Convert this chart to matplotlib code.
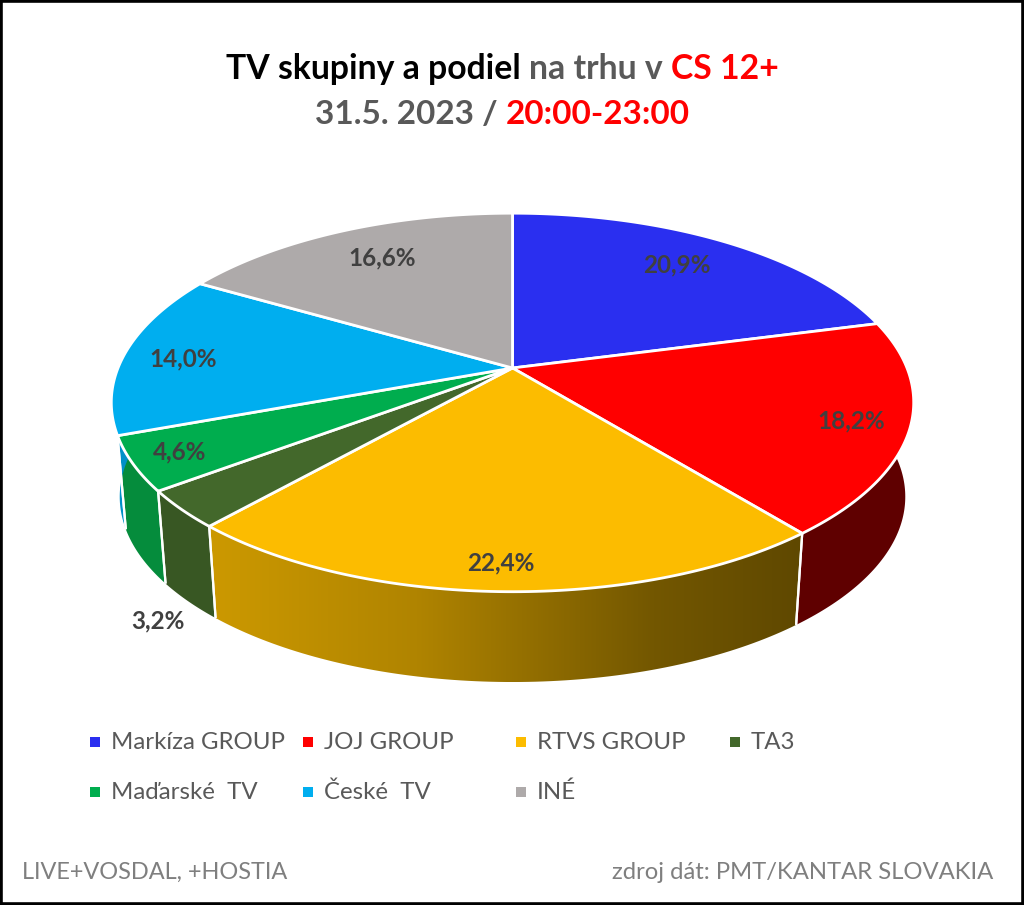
import numpy as np
import matplotlib
matplotlib.use("Agg")
import matplotlib.pyplot as plt
from matplotlib.patches import Polygon, Rectangle
from matplotlib.colors import LinearSegmentedColormap

categories = ["Markíza GROUP", "JOJ GROUP", "RTVS GROUP", "TA3", "Maďarské  TV", "České  TV", "INÉ"]
shares = [20.9, 18.2, 22.4, 3.2, 4.6, 14.0, 16.6]
top_colors = ["#2A2FF0", "#FF0000", "#FCBC00", "#43682B", "#00AD4E", "#00AEEF", "#AEAAAA"]
wall_colors = ["#12147A", "#5F0000", None, "#385723", "#058C3C", "#0090C8", "#6E6C6C"]
label_xy = [(677, 265), (851, 421), (501, 563), (158, 621), (180, 452), (183, 359), (382, 258)]
legend_xy = [(95, 742), (308, 742), (521, 742), (735, 742), (95, 792), (308, 792), (521, 792)]

FONT = "Lato"
plt.rcParams["font.family"] = [FONT, "DejaVu Sans"]

W, H = 1024, 905
fig = plt.figure(figsize=(W / 100, H / 100), dpi=100, facecolor="white")
ax = fig.add_axes([0, 0, 1, 1])
ax.set_xlim(0, W)
ax.set_ylim(H, 0)
ax.axis("off")

CX, CY, R, VS, K = 512.5, 368, 394.5, 183, 0.182
DEPTH, SHRINK = 95, 0.979


def project(theta, bottom=False):
    X, Y = np.sin(theta), np.cos(theta)
    d = 1 + K * Y
    x, y = R * X / d, -VS * Y / d
    if bottom:
        return CX + SHRINK * x, CY + SHRINK * y + DEPTH
    return CX + x, CY + y


fr = np.cumsum([0] + shares) / sum(shares) * 2 * np.pi
lw_top, lw_wall = 2.0, 1.6

# outer wall
for i in range(len(shares)):
    t = np.linspace(fr[i], fr[i + 1], 90)
    xt, yt = project(t)
    xb, yb = project(t, True)
    px = np.r_[xt, xb[::-1]]
    py = np.r_[yt, yb[::-1]]
    pts = np.c_[px, py]
    if wall_colors[i] is None:
        poly = Polygon(pts, closed=True, fc="none", ec="none", zorder=2)
        ax.add_patch(poly)
        cmap = LinearSegmentedColormap.from_list(
            "w", [(0, "#CC9900"), (0.35, "#B08400"), (0.75, "#735700"), (1, "#5F4800")])
        im = ax.imshow(np.linspace(0, 1, 256)[None, :], cmap=cmap, aspect="auto",
                       extent=(px.min(), px.max(), py.max(), py.min()), zorder=2)
        im.set_clip_path(poly)
        ax.set_xlim(0, W)
        ax.set_ylim(H, 0)
    else:
        ax.add_patch(Polygon(pts, closed=True, fc=wall_colors[i], ec="none", zorder=2))
    for th in (fr[i], fr[i + 1]):
        if np.cos(th) < -K * 0.5:
            a, b = project(th), project(th, True)
            ax.plot([a[0], b[0]], [a[1], b[1]], color="white", lw=lw_wall, zorder=3,
                    solid_capstyle="butt")

# top surface
for i in range(len(shares)):
    t = np.linspace(fr[i], fr[i + 1], 90)
    xt, yt = project(t)
    pts = np.r_[[[CX, CY]], np.c_[xt, yt]]
    ax.add_patch(Polygon(pts, closed=True, fc=top_colors[i], ec="white", lw=lw_top,
                         joinstyle="round", zorder=4))

# data labels
for v, (x, y) in zip(shares, label_xy):
    ax.text(x, y, f"{v:.1f}%".replace(".", ","), color="#404040", fontsize=17.5, fontweight="bold",
            ha="center", va="center", zorder=6)

# legend
for name, col, (x, y) in zip(categories, top_colors, legend_xy):
    ax.add_patch(Rectangle((x - 5, y - 5), 10, 10, fc=col, ec="none", zorder=5))
    ax.text(x + 16, y, name, color="#595959", fontsize=17.3, ha="left", va="center", zorder=6)


# multi-coloured title lines
def colored_line(parts, cx, y, size):
    r = fig.canvas.get_renderer()
    arts = [ax.text(0, y, s, color=c, fontsize=size, fontweight="bold", ha="left", va="center")
            for s, c in parts]
    widths = []
    for a, (s, c) in zip(arts, parts):
        a.set_text(s.replace(" ", "\u00a0"))
        widths.append(a.get_window_extent(r).width)
    x = cx - sum(widths) / 2
    for a, w in zip(arts, widths):
        a.set_x(x)
        x += w


colored_line([("TV skupiny a podiel ", "#000000"), ("na trhu v ", "#595959"), ("CS 12+", "#FF0000")],
             502, 69, 24.3)
colored_line([("31.5. 2023 / ", "#595959"), ("20:00-23:00", "#FF0000")], 502, 114, 24)

# footer
ax.text(22, 872, "LIVE+VOSDAL, +HOSTIA", color="#7F7F7F", fontsize=16.9, ha="left", va="center")
ax.text(993, 872, "zdroj dát: PMT/KANTAR SLOVAKIA", color="#7F7F7F", fontsize=17.2, ha="right", va="center")

# frame
ax.add_patch(Rectangle((1, 1), W - 2, H - 2, fc="none", ec="black", lw=2.6, zorder=10))

fig.savefig("out.png", dpi=100, facecolor="white")
